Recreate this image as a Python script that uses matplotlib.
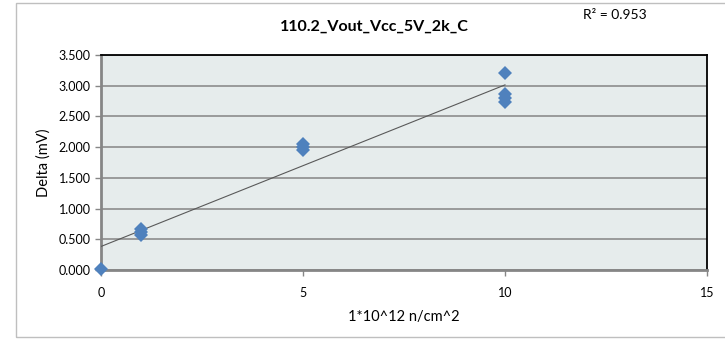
import matplotlib
matplotlib.use('Agg')
import matplotlib.pyplot as plt
from matplotlib.patches import Rectangle
from matplotlib.ticker import FormatStrFormatter
import numpy as np

plt.rcParams['font.family'] = ['Lato', 'DejaVu Sans']

# fluence (1*10^12 n/cm^2) and measured delta (mV)
fluence = [0, 1, 1, 1, 5, 5, 5, 10, 10, 10, 10]
delta = [0.01, 0.66, 0.62, 0.57, 2.05, 2.00, 1.95, 3.21, 2.87, 2.80, 2.73]
title = '110.2_Vout_Vcc_5V_2k_C'
r2_text = 'R² = 0.953'
yticks = [0, 0.5, 1.0, 1.5, 2.0, 2.5, 3.0, 3.5]
xticks = [0, 5, 10, 15]

W, H = 725, 339
fig = plt.figure(figsize=(W / 100, H / 100), dpi=100)

# chart area border
fig.patches.append(Rectangle((16 / W, 2 / H), 1.0, (336 - 2) / H, transform=fig.transFigure,
                             fill=False, edgecolor='#bfbfbf', linewidth=1.0))

ax = fig.add_axes([101 / W, (H - 270) / H, 606 / W, 215 / H])
ax.set_facecolor('#e6ecec')

# linear trendline
k, b = np.polyfit(fluence, delta, 1)
xl = np.array([0, 10])
ax.plot(xl, k * xl + b, color='#595959', linewidth=0.8, zorder=3)

ax.plot(fluence, delta, linestyle='none', marker='D', markersize=7.5,
        color='#4f81bd', markeredgewidth=0, zorder=4, clip_on=False)

ax.set_xlim(0, 15)
ax.set_ylim(0, 3.5)
ax.set_xticks(xticks)
ax.set_yticks(yticks)
ax.yaxis.set_major_formatter(FormatStrFormatter('%.3f'))
ax.grid(axis='y', color='#8c8c8c', linewidth=1.2)
ax.set_axisbelow(True)

for s in ['left', 'bottom']:
    ax.spines[s].set_color('#868686')
    ax.spines[s].set_linewidth(2)
for s in ['top', 'right']:
    ax.spines[s].set_color('black')
    ax.spines[s].set_linewidth(1.3)

ax.tick_params(axis='both', colors='#868686', labelcolor='black', labelsize=9,
               length=4, width=1, direction='out')
ax.tick_params(axis='x', pad=8)

ax.set_xlabel('1*10^12 n/cm^2', fontsize=10.5, labelpad=8)
ax.set_ylabel('Delta (mV)', fontsize=10.5, labelpad=6)

fig.text(374 / W, 1 - 27 / H, title, ha='center', va='center',
         fontsize=11.5, fontweight='bold')
fig.text(647 / W, 1 - 15 / H, r2_text, ha='right', va='center', fontsize=10)

fig.savefig('out.png', dpi=100)
